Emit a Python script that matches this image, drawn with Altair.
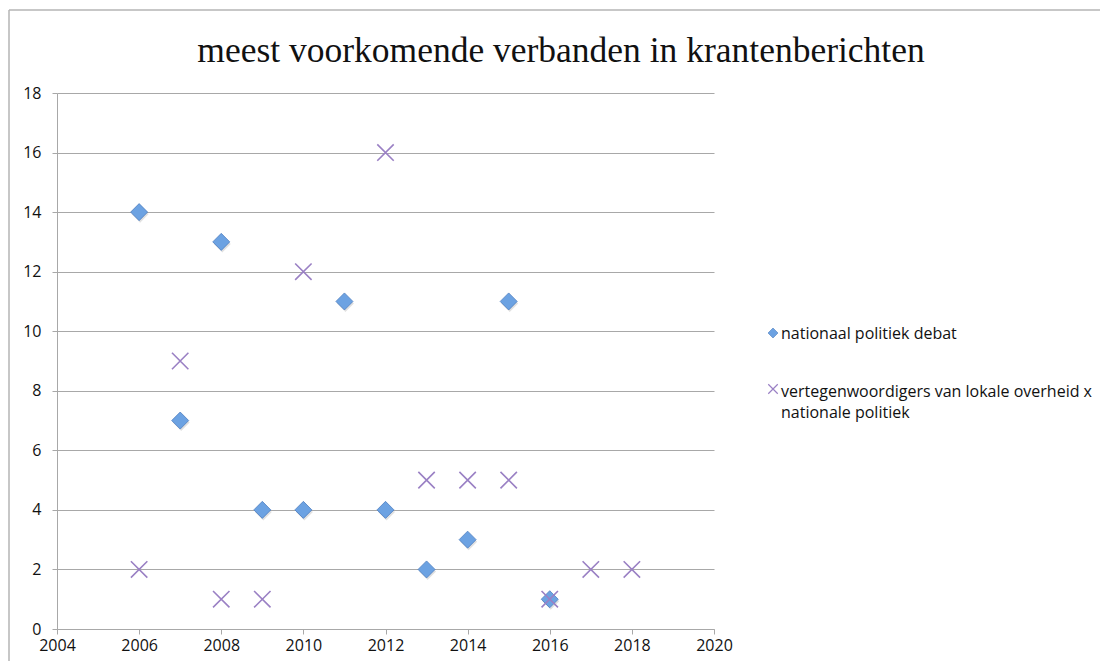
import altair as alt
import pandas as pd

# ---- data ----
years_debat = [2006, 2007, 2008, 2009, 2010, 2011, 2012, 2013, 2014, 2015, 2016]
values_debat = [14, 7, 13, 4, 4, 11, 4, 2, 3, 11, 1]
years_lokaal = [2006, 2007, 2008, 2009, 2010, 2012, 2013, 2014, 2015, 2016, 2017, 2018]
values_lokaal = [2, 9, 1, 1, 12, 16, 5, 5, 5, 1, 2, 2]
series_names = ["nationaal politiek debat",
                "vertegenwoordigers van lokale overheid x nationale politiek"]
legend_lines = ["nationaal politiek debat",
                "vertegenwoordigers van lokale overheid x",
                "nationale politiek"]
x_ticks = list(range(2004, 2021, 2))
y_ticks = list(range(0, 19, 2))
title_text = "meest voorkomende verbanden in krantenberichten"

BLUE = "#6ca2e2"
BLUE_EDGE = "#4f7fc0"
PURPLE = "#9a80c4"
X_PATH = "M-1,-1L1,1M-1,1L1,-1"
LABEL_FONT = "Open Sans"

df_debat = pd.DataFrame({"jaar": years_debat, "aantal": values_debat, "reeks": series_names[0]})
df_lokaal = pd.DataFrame({"jaar": years_lokaal, "aantal": values_lokaal, "reeks": series_names[1]})

x_enc = alt.X("jaar:Q",
              scale=alt.Scale(domain=[2004, 2020], nice=False, zero=False),
              axis=alt.Axis(values=x_ticks, format="d", title=None, grid=False,
                            labelFlush=False, labelOverlap=False,
                            domainColor="#a8a8a8", tickColor="#a8a8a8", tickSize=5,
                            labelFont=LABEL_FONT, labelFontSize=16, labelColor="#111",
                            labelPadding=3))
y_enc = alt.Y("aantal:Q",
              scale=alt.Scale(domain=[0, 18], nice=False),
              axis=alt.Axis(values=y_ticks, title=None, grid=True, gridColor="#a8a8a8",
                            labelFlush=False, labelOverlap=False,
                            gridWidth=1, domainColor="#a8a8a8", tickColor="#a8a8a8",
                            tickSize=5, labelFont=LABEL_FONT, labelFontSize=16,
                            labelColor="#111", labelPadding=11))

shadow = alt.Chart(df_debat).mark_point(
    shape="diamond", filled=True, size=290, color="#000", opacity=0.12, yOffset=2, xOffset=1
).encode(x=x_enc, y=y_enc)

diamonds = alt.Chart(df_debat).mark_point(
    shape="diamond", filled=True, size=290, fill=BLUE, stroke=BLUE_EDGE, strokeWidth=0.8, opacity=1
).encode(x=x_enc, y=y_enc)

crosses = alt.Chart(df_lokaal).mark_point(
    shape=X_PATH, filled=False, size=270, color=PURPLE, strokeWidth=1.6, opacity=1
).encode(x=x_enc, y=y_enc)

one = pd.DataFrame({"k": [0]})

# outer frame of the chart (decoration)
frame_left = alt.Chart(one).mark_rule(color="#b4b4b4", strokeWidth=1.5).encode(
    x=alt.value(-48), y=alt.value(-83), y2=alt.value(600))
frame_top = alt.Chart(one).mark_rule(color="#b4b4b4", strokeWidth=1.5).encode(
    x=alt.value(-48), x2=alt.value(1100), y=alt.value(-83))

title = alt.Chart(one).mark_text(
    font="Liberation Serif", fontSize=35.5, color="#111", align="center", baseline="middle"
).encode(x=alt.value(504), y=alt.value(-42), text=alt.value(title_text))

leg_sym1 = alt.Chart(one).mark_point(
    shape="diamond", filled=True, size=100, fill=BLUE, stroke=BLUE_EDGE, strokeWidth=0.6, opacity=1
).encode(x=alt.value(716), y=alt.value(240))
leg_sym2 = alt.Chart(one).mark_point(
    shape=X_PATH, filled=False, size=90, color=PURPLE, strokeWidth=1.2, opacity=1
).encode(x=alt.value(716), y=alt.value(296))

def leg_text(line, ypos):
    return alt.Chart(one).mark_text(
        font=LABEL_FONT, fontSize=16, color="#111", align="left", baseline="middle"
    ).encode(x=alt.value(724), y=alt.value(ypos), text=alt.value(line))

leg_t1 = leg_text(legend_lines[0], 241)
leg_t2 = leg_text(legend_lines[1], 299)
leg_t3 = leg_text(legend_lines[2], 320)

chart = alt.layer(
    frame_left, frame_top, title, shadow, diamonds, crosses,
    leg_sym1, leg_sym2, leg_t1, leg_t2, leg_t3
).properties(
    width=657, height=536,
    background="white",
    autosize=alt.AutoSizeParams(type="none"),
    padding={"left": 49, "top": 85, "right": 386, "bottom": 32},
).configure_view(stroke=None)

chart.save("out.html", embed_options={"renderer": "svg", "actions": False})
